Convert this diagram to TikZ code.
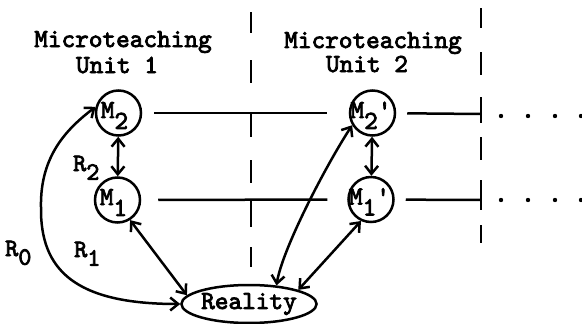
\documentclass[tikz,border=0pt]{standalone}
\usepackage{fontspec}
\newfontfamily\tw{lmmono10-regular.otf}[FakeBold=3]
\usetikzlibrary{arrows.meta,shapes.geometric}
\tikzset{
  title/.style={font=\tw\fontsize{26}{28}\selectfont, anchor=base, inner sep=0},
  mcirc/.style={circle, draw, line width=2.5pt, minimum size=45pt, inner sep=0,
    font=\tw\fontsize{26}{27}\selectfont},
  rlab/.style={font=\tw\fontsize{25}{26}\selectfont, anchor=base west, inner sep=0},
  reality/.style={ellipse, draw, line width=2.5pt, minimum width=135pt, minimum height=38pt,
    inner sep=0, font=\tw\fontsize{26}{28}\selectfont},
  conn/.style={line width=2.5pt},
  dbl/.style={line width=2.5pt,
    arrows={Straight Barb[length=8pt,width=13pt]-Straight Barb[length=8pt,width=13pt]}},
  divider/.style={line width=2.8pt},
}
\newcommand{\mlab}[3]{\smash{\raisebox{-5pt}{M\raisebox{-0.42em}{#1}#2}}\hspace*{#3}}
\begin{document}
\begin{tikzpicture}[x=1pt,y=-1pt]
\useasboundingbox (0,0) rectangle (582,324);
% titles
\node[title] (t1a) at (123,47) {Microteaching};
\node[title] (t1b) at (117,73) {Unit 1};
\node[title] (t2a) at (373,48) {Microteaching};
\node[title] (t2b) at (367,72) {Unit 2};
% dashed dividers
\foreach \a/\b in {12/33,60/83,113/137,160/183,200/227,247/267}
  \draw[divider] (251,\a) -- (251,\b);
\foreach \a/\b in {8/28,52/75,97/123,137/160,180/210,225/243}
  \draw[divider] (481,\a) -- (481,\b);
% model nodes
\node[mcirc] (M2) at (118.5,113) {\mlab{2}{}{8pt}};
\node[mcirc] (M1) at (117.5,200) {\mlab{1}{}{8pt}};
\node[mcirc] (M2p) at (372.5,113) {\mlab{2}{'}{3pt}};
\node[mcirc] (M1p) at (371,199.5) {\mlab{1}{'}{3pt}};
\node[reality] (Real) at (249,304) {Reality};
% line ends at second divider
\coordinate (e2) at (481,114);
\coordinate (e1) at (481,200);
% horizontal lines
\draw[conn, shorten <=12pt, shorten >=22pt] (M2) -- (M2p);
\draw[conn, shorten <=17pt, shorten >=20pt] (M1) -- (M1p);
\draw[conn, shorten <=11pt] (M2p) -- (e2);
\draw[conn, shorten <=11pt] (M1p) -- (e1);
% continuation dots
\foreach \x in {501,528,555,581} {
  \fill (\x,116) circle (2.2pt);
  \fill (\x,200) circle (2.2pt);
}
% relations
\draw[dbl] (M2) -- (M1);
\draw[dbl] (M2p) -- (M1p);
\draw[dbl] (M1.-58) -- (Real.172);
\draw[dbl] (Real.west) .. controls (75,304) and (40,270) .. (41,207)
  .. controls (40,155) and (68,128) .. (M2.165);
\draw[dbl] (M2p.211) .. controls (325,167) and (282,250) .. (Real.34);
\draw[dbl] (M1p.245) -- (Real.16);
% relation labels
\node[rlab] (R2) at (73,171) {R\raisebox{-0.35em}{2}};
\node[rlab] (R1) at (74,257) {R\raisebox{-0.35em}{1}};
\node[rlab] (R0) at (5,256) {R\raisebox{-0.35em}{0}};
\end{tikzpicture}
\end{document}
